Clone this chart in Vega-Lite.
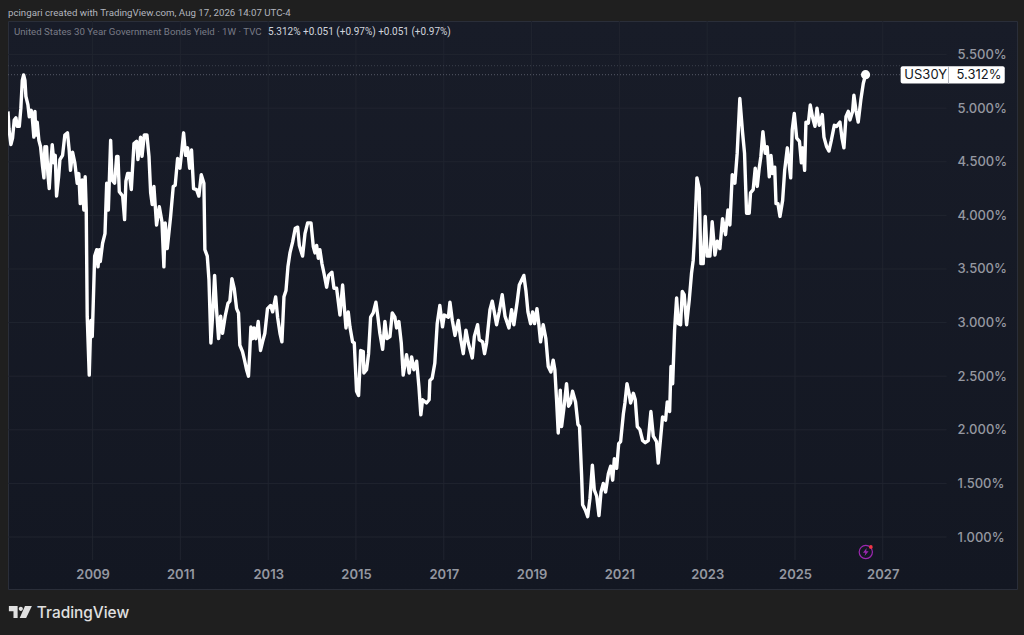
{
  "$schema": "https://vega.github.io/schema/vega-lite/v6.json",
  "width": 1009,
  "height": 568,
  "autosize": {"type": "none"},
  "padding": {"left": 8, "top": 21, "right": 7, "bottom": 46},
  "background": "#1f1f1f",
  "view": {
    "stroke": "#2a2e39",
    "fill": {"gradient": "linear", "x1": 0, "y1": 0, "x2": 0, "y2": 1, "stops": [{"offset": 0, "color": "#181c28"}, {"offset": 1, "color": "#131722"}]}
  },
  "title": {"text": "pcingari created with TradingView.com, Aug 17, 2026 14:07 UTC-4", "anchor": "start", "frame": "group", "font": "Roboto", "fontSize": 9.7, "fontWeight": "normal", "color": "#b2b5be", "offset": 3},
  "config": {"text": {"font": "Inter"}},
  "data": {"values": [{}]},
  "datasets": {
    "years": [{"year": "2009-01-01"}, {"year": "2011-01-01"}, {"year": "2013-01-01"}, {"year": "2015-01-01"}, {"year": "2017-01-01"}, {"year": "2019-01-01"}, {"year": "2021-01-01"}, {"year": "2023-01-01"}, {"year": "2025-01-01"}, {"year": "2027-01-01"}],
    "levels": [{"level": 1}, {"level": 1.5}, {"level": 2}, {"level": 2.5}, {"level": 3}, {"level": 3.5}, {"level": 4}, {"level": 4.5}, {"level": 5}, {"level": 5.5}],
    "yields": [
      {"date":"2007-01-28","yield":4.97},{"date":"2007-02-05","yield":4.81},{"date":"2007-02-21","yield":4.66},{"date":"2007-03-07","yield":4.72},{"date":"2007-03-21","yield":4.89},{"date":"2007-04-04","yield":4.91},{"date":"2007-04-15","yield":4.83},{"date":"2007-05-02","yield":4.83},{"date":"2007-05-15","yield":5.00},{"date":"2007-05-27","yield":5.26},{"date":"2007-06-07","yield":5.31},{"date":"2007-06-18","yield":5.26},{"date":"2007-06-26","yield":5.11},{"date":"2007-07-13","yield":5.03},{"date":"2007-07-24","yield":4.92},{"date":"2007-08-09","yield":4.98},{"date":"2007-08-18","yield":4.91},{"date":"2007-08-31","yield":4.73},{"date":"2007-09-09","yield":4.97},{"date":"2007-09-17","yield":4.75},{"date":"2007-09-28","yield":4.87},{"date":"2007-10-12","yield":4.70},{"date":"2007-10-26","yield":4.64},{"date":"2007-11-12","yield":4.45},{"date":"2007-11-23","yield":4.35},{"date":"2007-12-01","yield":4.64},{"date":"2007-12-09","yield":4.52},{"date":"2007-12-15","yield":4.64},{"date":"2007-12-26","yield":4.38},
      {"date":"2008-01-06","yield":4.25},{"date":"2008-01-17","yield":4.45},{"date":"2008-01-31","yield":4.66},{"date":"2008-02-14","yield":4.49},{"date":"2008-02-25","yield":4.56},{"date":"2008-03-07","yield":4.18},{"date":"2008-03-24","yield":4.36},{"date":"2008-04-04","yield":4.52},{"date":"2008-04-26","yield":4.56},{"date":"2008-05-15","yield":4.75},{"date":"2008-06-06","yield":4.77},{"date":"2008-06-20","yield":4.61},{"date":"2008-07-01","yield":4.42},{"date":"2008-07-18","yield":4.59},{"date":"2008-08-06","yield":4.49},{"date":"2008-08-26","yield":4.30},{"date":"2008-09-08","yield":4.39},{"date":"2008-09-20","yield":4.11},{"date":"2008-10-06","yield":4.33},{"date":"2008-10-20","yield":4.05},{"date":"2008-10-31","yield":4.36},{"date":"2008-11-09","yield":4.05},{"date":"2008-11-17","yield":3.06},{"date":"2008-12-04","yield":2.51},{"date":"2008-12-17","yield":3.02},{"date":"2008-12-29","yield":2.87},
      {"date":"2009-01-18","yield":3.62},{"date":"2009-02-04","yield":3.68},{"date":"2009-02-15","yield":3.52},{"date":"2009-02-26","yield":3.68},{"date":"2009-03-06","yield":3.57},{"date":"2009-03-25","yield":3.74},{"date":"2009-04-14","yield":3.83},{"date":"2009-04-28","yield":4.30},{"date":"2009-05-12","yield":4.05},{"date":"2009-05-31","yield":4.70},{"date":"2009-06-11","yield":4.33},{"date":"2009-07-03","yield":4.30},{"date":"2009-07-20","yield":4.55},{"date":"2009-07-31","yield":4.55},{"date":"2009-08-11","yield":4.22},{"date":"2009-09-08","yield":4.18},{"date":"2009-09-24","yield":3.96},{"date":"2009-10-05","yield":4.32},{"date":"2009-10-19","yield":4.39},{"date":"2009-11-02","yield":4.39},{"date":"2009-11-19","yield":4.24},{"date":"2009-12-11","yield":4.67},
      {"date":"2010-01-02","yield":4.69},{"date":"2010-01-13","yield":4.52},{"date":"2010-02-04","yield":4.73},{"date":"2010-02-16","yield":4.55},{"date":"2010-03-07","yield":4.75},{"date":"2010-03-29","yield":4.75},{"date":"2010-04-15","yield":4.55},{"date":"2010-04-29","yield":4.21},{"date":"2010-05-12","yield":4.10},{"date":"2010-05-26","yield":4.27},{"date":"2010-06-17","yield":3.91},{"date":"2010-07-10","yield":4.08},{"date":"2010-08-01","yield":3.94},{"date":"2010-08-17","yield":3.52},{"date":"2010-08-28","yield":3.93},{"date":"2010-09-14","yield":3.69},{"date":"2010-10-12","yield":3.99},{"date":"2010-11-03","yield":4.27},{"date":"2010-11-19","yield":4.28},{"date":"2010-12-09","yield":4.53},{"date":"2010-12-28","yield":4.44},
      {"date":"2011-01-14","yield":4.61},{"date":"2011-01-28","yield":4.77},{"date":"2011-02-14","yield":4.56},{"date":"2011-03-02","yield":4.63},{"date":"2011-03-19","yield":4.44},{"date":"2011-04-04","yield":4.61},{"date":"2011-04-21","yield":4.25},{"date":"2011-05-16","yield":4.24},{"date":"2011-06-04","yield":4.18},{"date":"2011-06-24","yield":4.38},{"date":"2011-07-16","yield":4.30},{"date":"2011-07-24","yield":3.68},{"date":"2011-08-13","yield":3.62},{"date":"2011-08-27","yield":3.40},{"date":"2011-09-12","yield":2.81},{"date":"2011-09-26","yield":3.06},{"date":"2011-10-13","yield":3.44},{"date":"2011-10-29","yield":3.12},{"date":"2011-11-15","yield":2.85},{"date":"2011-12-02","yield":3.06},{"date":"2011-12-18","yield":2.90},
      {"date":"2012-01-09","yield":3.06},{"date":"2012-02-01","yield":3.18},{"date":"2012-02-17","yield":3.20},{"date":"2012-03-05","yield":3.41},{"date":"2012-03-24","yield":3.32},{"date":"2012-04-13","yield":3.13},{"date":"2012-04-29","yield":3.09},{"date":"2012-05-10","yield":2.79},{"date":"2012-06-01","yield":2.73},{"date":"2012-06-18","yield":2.65},{"date":"2012-07-05","yield":2.56},{"date":"2012-07-21","yield":2.50},{"date":"2012-08-01","yield":2.74},{"date":"2012-08-10","yield":2.96},{"date":"2012-08-24","yield":2.85},{"date":"2012-09-06","yield":2.95},{"date":"2012-09-20","yield":2.85},{"date":"2012-10-10","yield":3.01},{"date":"2012-10-29","yield":2.74},{"date":"2012-11-15","yield":2.82},{"date":"2012-12-04","yield":2.90},{"date":"2012-12-26","yield":3.13},
      {"date":"2013-01-21","yield":3.16},{"date":"2013-02-07","yield":3.10},{"date":"2013-03-04","yield":3.24},{"date":"2013-03-20","yield":3.05},{"date":"2013-04-09","yield":2.90},{"date":"2013-04-25","yield":2.82},{"date":"2013-05-12","yield":3.24},{"date":"2013-05-29","yield":3.30},{"date":"2013-06-14","yield":3.52},{"date":"2013-07-01","yield":3.65},{"date":"2013-07-23","yield":3.75},{"date":"2013-08-14","yield":3.88},{"date":"2013-09-03","yield":3.89},{"date":"2013-09-17","yield":3.72},{"date":"2013-10-14","yield":3.62},{"date":"2013-11-03","yield":3.83},{"date":"2013-11-25","yield":3.93},{"date":"2013-12-23","yield":3.93},
      {"date":"2014-01-11","yield":3.71},{"date":"2014-01-25","yield":3.65},{"date":"2014-02-08","yield":3.72},{"date":"2014-02-22","yield":3.60},{"date":"2014-03-07","yield":3.68},{"date":"2014-03-24","yield":3.55},{"date":"2014-04-10","yield":3.46},{"date":"2014-05-02","yield":3.33},{"date":"2014-05-19","yield":3.44},{"date":"2014-06-15","yield":3.47},{"date":"2014-07-02","yield":3.32},{"date":"2014-07-24","yield":3.32},{"date":"2014-08-21","yield":3.07},{"date":"2014-09-12","yield":3.35},{"date":"2014-09-28","yield":3.12},{"date":"2014-10-10","yield":2.95},{"date":"2014-10-29","yield":3.10},{"date":"2014-11-12","yield":2.96},{"date":"2014-12-04","yield":2.82},{"date":"2014-12-18","yield":2.81},
      {"date":"2015-01-06","yield":2.36},{"date":"2015-01-23","yield":2.32},{"date":"2015-02-09","yield":2.74},{"date":"2015-03-03","yield":2.73},{"date":"2015-03-08","yield":2.53},{"date":"2015-03-30","yield":2.56},{"date":"2015-04-16","yield":2.71},{"date":"2015-05-03","yield":3.05},{"date":"2015-05-25","yield":3.09},{"date":"2015-06-16","yield":3.19},{"date":"2015-07-03","yield":3.05},{"date":"2015-07-19","yield":2.90},{"date":"2015-08-11","yield":2.75},{"date":"2015-08-30","yield":3.01},{"date":"2015-09-16","yield":2.85},{"date":"2015-10-11","yield":2.87},{"date":"2015-10-30","yield":3.09},{"date":"2015-11-21","yield":3.05},{"date":"2015-12-05","yield":2.95},{"date":"2015-12-24","yield":3.01},
      {"date":"2016-01-13","yield":2.81},{"date":"2016-01-29","yield":2.51},{"date":"2016-02-26","yield":2.70},{"date":"2016-03-19","yield":2.53},{"date":"2016-04-08","yield":2.68},{"date":"2016-04-27","yield":2.56},{"date":"2016-05-20","yield":2.64},{"date":"2016-06-08","yield":2.40},{"date":"2016-06-24","yield":2.14},{"date":"2016-07-08","yield":2.28},{"date":"2016-08-10","yield":2.25},{"date":"2016-09-01","yield":2.28},{"date":"2016-09-07","yield":2.46},{"date":"2016-09-26","yield":2.48},{"date":"2016-10-18","yield":2.62},{"date":"2016-11-07","yield":2.99},{"date":"2016-11-29","yield":3.16},{"date":"2016-12-21","yield":2.96},
      {"date":"2017-01-05","yield":3.07},{"date":"2017-02-08","yield":3.05},{"date":"2017-02-21","yield":3.19},{"date":"2017-03-13","yield":3.02},{"date":"2017-04-04","yield":2.88},{"date":"2017-05-02","yield":3.02},{"date":"2017-05-21","yield":2.85},{"date":"2017-06-12","yield":2.71},{"date":"2017-07-04","yield":2.93},{"date":"2017-07-24","yield":2.81},{"date":"2017-08-26","yield":2.67},{"date":"2017-09-12","yield":2.87},{"date":"2017-10-09","yield":2.98},{"date":"2017-10-23","yield":2.84},{"date":"2017-11-20","yield":2.82},{"date":"2017-12-06","yield":2.71},{"date":"2017-12-23","yield":2.81},
      {"date":"2018-01-20","yield":3.12},{"date":"2018-02-08","yield":3.20},{"date":"2018-02-25","yield":3.10},{"date":"2018-03-16","yield":2.98},{"date":"2018-04-07","yield":3.10},{"date":"2018-05-02","yield":3.26},{"date":"2018-05-25","yield":3.06},{"date":"2018-06-27","yield":2.95},{"date":"2018-07-19","yield":3.12},{"date":"2018-08-07","yield":2.98},{"date":"2018-09-04","yield":3.20},{"date":"2018-09-21","yield":3.35},{"date":"2018-10-29","yield":3.44},{"date":"2018-11-15","yield":3.30},{"date":"2018-12-02","yield":3.10},{"date":"2018-12-24","yield":2.99},
      {"date":"2019-01-10","yield":3.10},{"date":"2019-01-26","yield":2.99},{"date":"2019-02-15","yield":3.13},{"date":"2019-03-03","yield":2.98},{"date":"2019-03-17","yield":2.82},{"date":"2019-04-08","yield":2.98},{"date":"2019-04-30","yield":2.85},{"date":"2019-05-20","yield":2.59},{"date":"2019-06-11","yield":2.54},{"date":"2019-06-30","yield":2.65},{"date":"2019-07-14","yield":2.56},{"date":"2019-07-28","yield":2.28},{"date":"2019-08-11","yield":1.97},{"date":"2019-08-28","yield":2.37},{"date":"2019-09-08","yield":2.03},{"date":"2019-09-27","yield":2.20},{"date":"2019-10-19","yield":2.43},{"date":"2019-11-05","yield":2.22},{"date":"2019-11-21","yield":2.25},{"date":"2019-12-08","yield":2.36},
      {"date":"2020-01-02","yield":2.26},{"date":"2020-01-22","yield":2.05},{"date":"2020-02-04","yield":2.03},{"date":"2020-02-21","yield":1.59},{"date":"2020-03-01","yield":1.30},{"date":"2020-03-24","yield":1.25},{"date":"2020-04-12","yield":1.19},{"date":"2020-05-01","yield":1.36},{"date":"2020-05-21","yield":1.67},{"date":"2020-06-06","yield":1.44},{"date":"2020-06-26","yield":1.38},{"date":"2020-07-15","yield":1.20},{"date":"2020-08-01","yield":1.42},{"date":"2020-08-20","yield":1.50},{"date":"2020-09-08","yield":1.42},{"date":"2020-10-01","yield":1.59},{"date":"2020-10-20","yield":1.66},{"date":"2020-11-06","yield":1.53},{"date":"2020-11-20","yield":1.73},{"date":"2020-12-09","yield":1.64},{"date":"2020-12-26","yield":1.87},
      {"date":"2021-01-11","yield":1.89},{"date":"2021-02-03","yield":2.15},{"date":"2021-02-16","yield":2.25},{"date":"2021-03-05","yield":2.43},{"date":"2021-03-24","yield":2.33},{"date":"2021-04-04","yield":2.25},{"date":"2021-04-27","yield":2.34},{"date":"2021-05-13","yield":2.28},{"date":"2021-05-30","yield":2.03},{"date":"2021-06-21","yield":2.00},{"date":"2021-07-13","yield":1.90},{"date":"2021-08-04","yield":1.88},{"date":"2021-08-29","yield":1.90},{"date":"2021-09-20","yield":2.17},{"date":"2021-10-10","yield":1.94},{"date":"2021-11-06","yield":1.89},{"date":"2021-11-20","yield":1.69},{"date":"2021-12-07","yield":1.89},{"date":"2021-12-26","yield":2.12},
      {"date":"2022-01-20","yield":2.09},{"date":"2022-02-03","yield":2.26},{"date":"2022-02-23","yield":2.17},{"date":"2022-03-06","yield":2.59},{"date":"2022-03-20","yield":2.43},{"date":"2022-04-05","yield":2.93},{"date":"2022-04-22","yield":3.23},{"date":"2022-05-06","yield":2.99},{"date":"2022-05-25","yield":2.98},{"date":"2022-06-08","yield":3.29},{"date":"2022-06-24","yield":3.26},{"date":"2022-07-14","yield":2.98},{"date":"2022-08-05","yield":3.21},{"date":"2022-08-24","yield":3.46},{"date":"2022-09-07","yield":3.58},{"date":"2022-09-18","yield":3.80},{"date":"2022-10-08","yield":4.35},{"date":"2022-10-27","yield":4.25},{"date":"2022-11-10","yield":3.55},{"date":"2022-11-29","yield":3.55},{"date":"2022-12-16","yield":3.99},
      {"date":"2023-01-02","yield":3.62},{"date":"2023-01-24","yield":3.62},{"date":"2023-02-12","yield":3.94},{"date":"2023-03-07","yield":3.63},{"date":"2023-03-26","yield":3.76},{"date":"2023-04-17","yield":3.69},{"date":"2023-05-09","yield":3.97},{"date":"2023-06-03","yield":3.82},{"date":"2023-06-23","yield":4.05},{"date":"2023-07-09","yield":3.91},{"date":"2023-07-29","yield":4.38},{"date":"2023-08-20","yield":4.30},{"date":"2023-09-08","yield":4.58},{"date":"2023-09-30","yield":5.09},{"date":"2023-10-22","yield":4.78},{"date":"2023-11-08","yield":4.58},{"date":"2023-11-25","yield":4.02},{"date":"2023-12-17","yield":4.02},{"date":"2023-12-28","yield":4.21},
      {"date":"2024-01-19","yield":4.24},{"date":"2024-02-05","yield":4.44},{"date":"2024-02-22","yield":4.27},{"date":"2024-03-09","yield":4.44},{"date":"2024-03-23","yield":4.55},{"date":"2024-04-09","yield":4.78},{"date":"2024-04-28","yield":4.58},{"date":"2024-05-15","yield":4.64},{"date":"2024-06-01","yield":4.36},{"date":"2024-06-15","yield":4.56},{"date":"2024-06-29","yield":4.39},{"date":"2024-07-16","yield":4.45},{"date":"2024-07-27","yield":4.11},{"date":"2024-08-12","yield":4.11},{"date":"2024-08-29","yield":3.99},{"date":"2024-09-20","yield":4.14},{"date":"2024-10-07","yield":4.42},{"date":"2024-10-29","yield":4.63},{"date":"2024-11-26","yield":4.35},{"date":"2024-12-09","yield":4.80},{"date":"2024-12-26","yield":4.95},
      {"date":"2025-01-15","yield":4.72},{"date":"2025-02-07","yield":4.69},{"date":"2025-02-23","yield":4.49},{"date":"2025-03-06","yield":4.63},{"date":"2025-03-22","yield":4.42},{"date":"2025-04-02","yield":4.87},{"date":"2025-04-22","yield":4.86},{"date":"2025-05-08","yield":5.03},{"date":"2025-05-28","yield":4.91},{"date":"2025-06-16","yield":4.83},{"date":"2025-07-03","yield":5.00},{"date":"2025-07-22","yield":4.84},{"date":"2025-08-16","yield":4.94},{"date":"2025-08-30","yield":4.73},{"date":"2025-09-21","yield":4.64},{"date":"2025-10-10","yield":4.60},{"date":"2025-10-30","yield":4.70},{"date":"2025-11-24","yield":4.84},{"date":"2025-12-13","yield":4.83},
      {"date":"2026-01-10","yield":4.87},{"date":"2026-01-27","yield":4.72},{"date":"2026-02-12","yield":4.63},{"date":"2026-03-01","yield":4.92},{"date":"2026-03-20","yield":4.97},{"date":"2026-04-03","yield":4.89},{"date":"2026-04-25","yield":4.97},{"date":"2026-05-06","yield":5.12},{"date":"2026-05-23","yield":4.98},{"date":"2026-06-11","yield":4.87},{"date":"2026-07-03","yield":5.08},{"date":"2026-07-23","yield":5.23},{"date":"2026-08-11","yield":5.312}
    ]
  },
  "layer": [
    {
      "data": {"name": "years"},
      "mark": {"type": "rule", "stroke": "#20242f", "strokeWidth": 1},
      "encoding": {
        "x": {
          "field": "year", "type": "temporal",
          "scale": {"type": "utc", "domain": [{"year": 2007, "month": 1, "date": 28, "utc": true}, {"year": 2030, "month": 1, "date": 22, "utc": true}], "nice": false},
          "axis": {
            "title": null, "orient": "bottom", "offset": -28, "domain": false, "ticks": false, "grid": false,
            "values": [{"year": 2009, "utc": true}, {"year": 2011, "utc": true}, {"year": 2013, "utc": true}, {"year": 2015, "utc": true}, {"year": 2017, "utc": true}, {"year": 2019, "utc": true}, {"year": 2021, "utc": true}, {"year": 2023, "utc": true}, {"year": 2025, "utc": true}, {"year": 2027, "utc": true}],
            "format": "%Y", "formatType": "utc", "labelFont": "Inter", "labelFontSize": 13, "labelFontWeight": 600, "labelColor": "#9598a1", "labelPadding": 7, "labelOverlap": false
          }
        },
        "y": {
          "datum": 0.785, "type": "quantitative",
          "scale": {"domain": [0.515, 5.813], "nice": false, "zero": false},
          "axis": {
            "title": null, "orient": "right", "offset": -67, "domain": false, "ticks": false, "grid": false,
            "values": [1, 1.5, 2, 2.5, 3, 3.5, 4, 4.5, 5, 5.5],
            "labelExpr": "format(datum.value, '.3f') + '%'", "labelFont": "Inter", "labelFontSize": 13, "labelFontWeight": 500, "labelColor": "#9598a1", "labelPadding": 7, "labelAlign": "left", "labelOverlap": false
          }
        },
        "y2": {"datum": 5.813}
      }
    },
    {
      "data": {"name": "levels"},
      "mark": {"type": "rule", "stroke": "#20242f", "strokeWidth": 1},
      "encoding": {
        "y": {"field": "level", "type": "quantitative"},
        "x": {"datum": {"year": 2007, "month": 1, "date": 28, "utc": true}, "type": "temporal"},
        "x2": {"datum": {"year": 2028, "month": 6, "date": 15, "utc": true}}
      }
    },
    {
      "mark": {"type": "rule", "stroke": "#3c404c", "strokeWidth": 1, "strokeDash": [1, 2]},
      "encoding": {"y": {"datum": 5.396}, "x": {"datum": {"year": 2007, "month": 1, "date": 28, "utc": true}, "type": "temporal"}, "x2": {"datum": {"year": 2027, "month": 5, "date": 30, "utc": true}}}
    },
    {
      "mark": {"type": "rule", "stroke": "#565a66", "strokeWidth": 1, "strokeDash": [1, 2]},
      "encoding": {"y": {"datum": 5.312}, "x": {"datum": {"year": 2007, "month": 1, "date": 28, "utc": true}, "type": "temporal"}, "x2": {"datum": {"year": 2027, "month": 5, "date": 30, "utc": true}}}
    },
    {
      "data": {"name": "yields"},
      "mark": {"type": "line", "stroke": "#ffffff", "strokeWidth": 3.4, "strokeJoin": "round", "clip": true},
      "encoding": {
        "x": {"field": "date", "type": "temporal"},
        "y": {"field": "yield", "type": "quantitative"}
      }
    },
    {
      "mark": {"type": "point", "shape": "circle", "filled": true, "fill": "#ffffff", "opacity": 1, "size": 85},
      "encoding": {"x": {"datum": {"year": 2026, "month": 8, "date": 11, "utc": true}, "type": "temporal"}, "y": {"datum": 5.312}}
    },
    {
      "mark": {"type": "rect", "fill": "#ffffff", "cornerRadius": 2},
      "encoding": {"x": {"datum": {"year": 2027, "month": 5, "date": 30, "utc": true}, "type": "temporal"}, "x2": {"datum": {"year": 2029, "month": 10, "date": 12, "utc": true}}, "y": {"datum": 5.39}, "y2": {"datum": 5.23}}
    },
    {
      "mark": {"type": "rule", "stroke": "#b2b5be", "strokeWidth": 1},
      "encoding": {"x": {"datum": {"year": 2028, "month": 7, "date": 1, "utc": true}, "type": "temporal"}, "y": {"datum": 5.39}, "y2": {"datum": 5.23}}
    },
    {
      "mark": {"type": "text", "fontSize": 13, "color": "#131722", "align": "center", "baseline": "middle"},
      "encoding": {"x": {"datum": {"year": 2027, "month": 12, "date": 24, "utc": true}, "type": "temporal"}, "y": {"datum": 5.312}, "text": {"value": "US30Y"}}
    },
    {
      "mark": {"type": "text", "fontSize": 13, "color": "#131722", "align": "center", "baseline": "middle"},
      "encoding": {"x": {"datum": {"year": 2029, "month": 3, "date": 12, "utc": true}, "type": "temporal"}, "y": {"datum": 5.312}, "text": {"value": "5.312%"}}
    },
    {
      "mark": {"type": "text", "font": "Roboto", "fontSize": 9.7, "color": "#787b86", "align": "left", "baseline": "middle"},
      "encoding": {"x": {"datum": {"year": 2007, "month": 3, "date": 18, "utc": true}, "type": "temporal"}, "y": {"datum": 5.711}, "text": {"value": "United States 30 Year Government Bonds Yield · 1W · TVC"}}
    },
    {
      "mark": {"type": "text", "font": "Roboto", "fontSize": 10, "color": "#d1d4dc", "align": "left", "baseline": "middle"},
      "encoding": {"x": {"datum": {"year": 2012, "month": 12, "date": 31, "utc": true}, "type": "temporal"}, "y": {"datum": 5.711}, "text": {"value": "5.312%  +0.051 (+0.97%)  +0.051 (+0.97%)"}}
    },
    {
      "mark": {"type": "point", "shape": "circle", "filled": false, "stroke": "#9c27b0", "strokeWidth": 1.2, "opacity": 1, "size": 176},
      "encoding": {"x": {"datum": {"year": 2026, "month": 8, "date": 13, "utc": true}, "type": "temporal"}, "y": {"datum": 0.86}}
    },
    {
      "mark": {"type": "point", "shape": "M0.1,-0.5 L-0.35,0.1 H-0.05 L-0.15,0.5 L0.35,-0.1 H0.05 Z", "filled": true, "fill": "#9c27b0", "opacity": 1, "size": 256},
      "encoding": {"x": {"datum": {"year": 2026, "month": 8, "date": 13, "utc": true}, "type": "temporal"}, "y": {"datum": 0.86}}
    },
    {
      "mark": {"type": "point", "shape": "circle", "filled": true, "fill": "#f23645", "opacity": 1, "size": 14},
      "encoding": {"x": {"datum": {"year": 2026, "month": 9, "date": 24, "utc": true}, "type": "temporal"}, "y": {"datum": 0.907}}
    },
    {
      "mark": {"type": "point", "shape": "M-0.5,-0.26 H-0.12 V0.26 H-0.3 V-0.04 H-0.5 Z M0.2,-0.26 H0.5 L0.25,0.26 H-0.03 Z M-0.07,-0.14 A0.09,0.09 0 1 1 0.11,-0.14 A0.09,0.09 0 1 1 -0.07,-0.14 Z", "filled": true, "fill": "#e0e0e0", "opacity": 1, "size": 2116, "clip": false},
      "encoding": {"x": {"datum": {"year": 2007, "month": 5, "date": 11, "utc": true}, "type": "temporal"}, "y": {"datum": 0.3}}
    },
    {
      "mark": {"type": "text", "fontSize": 15.4, "fontWeight": 500, "color": "#e0e0e0", "align": "left", "baseline": "middle", "clip": false},
      "encoding": {"x": {"datum": {"year": 2007, "month": 9, "date": 25, "utc": true}, "type": "temporal"}, "y": {"datum": 0.291}, "text": {"value": "TradingView"}}
    }
  ]
}
